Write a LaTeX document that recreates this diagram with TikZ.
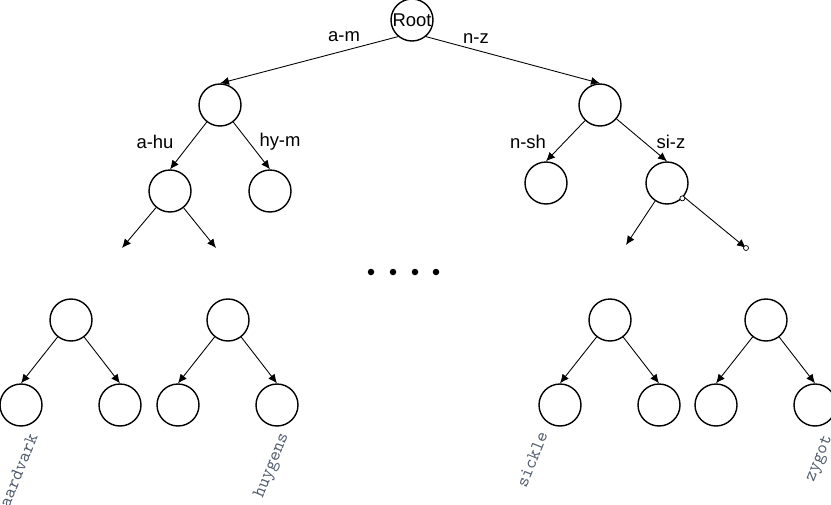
\documentclass[tikz,border=0pt]{standalone}
\usepackage{fontspec}
\setmainfont{Liberation Sans}
\usepackage{tikz}
\usetikzlibrary{arrows.meta}

\definecolor{wordgray}{RGB}{85,95,112}

\tikzset{
  bnode/.style={draw, line width=0.8pt, circle, minimum size=0.84cm, inner sep=0pt},
  branch/.style={line width=0.5pt, -{Latex[length=1.8mm,width=1.6mm]}},
  keylabel/.style={font=\fontsize{10.5}{12}\selectfont},
  leafword/.style={font=\ttfamily\fontsize{10.5}{12}\selectfont, text=wordgray, rotate=68, anchor=east, inner sep=0pt},
  handle/.style={draw, fill=white, line width=0.4pt, circle, inner sep=0pt, minimum size=1mm}
}

\begin{document}
\begin{tikzpicture}[x=0.02cm, y=-0.02cm]
    \useasboundingbox (0,0) rectangle (831,504);
    \clip (0,0) rectangle (831,504); % the leaf words run off the page

    % upper part of the trie
    \node[bnode, keylabel] (Root) at (412,20) {Root};
    \node[bnode] (L)  at (220,105) {};
    \node[bnode] (R)  at (600,105) {};
    \node[bnode] (LL) at (170,191) {};
    \node[bnode] (LR) at (270,191) {};
    \node[bnode] (RL) at (546,183) {};
    \node[bnode] (RR) at (667,183) {};

    \coordinate (LLa) at (122,248);
    \coordinate (LLb) at (216,248);
    \coordinate (RRa) at (626,245);
    \coordinate (RRb) at (746,248);

    \draw[branch] (Root.-130) -- (L.north);
    \draw[branch] (Root.-50) -- (R.north);
    \draw[branch] (L) -- (LL.north);
    \draw[branch] (L) -- (LR.north);
    \draw[branch] (R) -- (RL.north);
    \draw[branch] (R) -- (RR.north);
    \draw[branch] (LL) -- (LLa);
    \draw[branch] (LL) -- (LLb);
    \draw[branch] (RR) -- (RRa);
    \draw[branch] (RR) -- (RRb);
    \node[handle] (hA) at (RR.-45) {};% selection handles
    \node[handle] (hB) at (RRb) {};

    % key ranges on the branches
    \node[keylabel] (km)  at (344,37)  {a-m};
    \node[keylabel] (kn)  at (476,39)  {n-z};
    \node[keylabel] (kah) at (155,142) {a-hu};
    \node[keylabel] (khy) at (280,142) {hy-m};
    \node[keylabel] (kns) at (528,142) {n-sh};
    \node[keylabel] (ksi) at (671,142) {si-z};

    % the levels that are left out
    \foreach \x/\i in {371/1,393/2,415/3,436/4}{%
      \node[circle, fill, inner sep=0pt, minimum size=1.3mm] (dot\i) at (\x,272) {};
    }

    % lowest level of the trie
    \foreach \t/\x in {A/71,B/228,C/610,D/766}{%
      \node[bnode] (T\t)  at (\x,320) {};
      \node[bnode] (T\t l) at (\x-50,405) {};
      \node[bnode] (T\t r) at (\x+49,405) {};
      \draw[branch] (T\t) -- (T\t l.north);
      \draw[branch] (T\t) -- (T\t r.north);
    }

    % words at the leaves
    \node[leafword] (wA) at (33,434)  {aardvark};
    \node[leafword] (wB) at (285,434) {huygens};
    \node[leafword] (wC) at (543,432) {sickle};
    \node[leafword] (wD) at (829,436) {zygot};
\end{tikzpicture}
\end{document}
